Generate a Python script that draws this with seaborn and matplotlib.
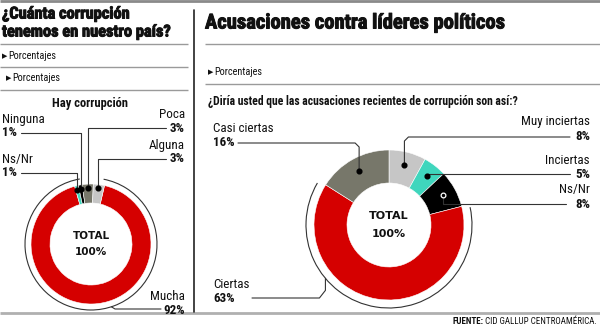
import numpy as np
import matplotlib
matplotlib.use("Agg")
import matplotlib.pyplot as plt
from matplotlib.patches import Arc
from matplotlib import font_manager
import matplotlib.patheffects as pe
import seaborn as sns

# ---------------- data ----------------
left_labels = ["Mucha", "Ns/Nr", "Ninguna", "Poca", "Alguna"]
left_values = [92, 1, 1, 3, 3]
left_colors = ["#d50000", "#3fd6bd", "#000000", "#77776a", "#c6c6c6"]

right_labels = ["Muy inciertas", "Inciertas", "Ns/Nr", "Ciertas", "Casi ciertas"]
right_values = [8, 5, 8, 63, 16]
right_colors = ["#c6c6c6", "#3fd6bd", "#000000", "#d50000", "#77776a"]

left_title = ["¿Cuánta corrupción", "tenemos en nuestro país?"]
right_title = "Acusaciones contra líderes políticos"
subtitle = "Porcentajes"
left_chart_title = "Hay corrupción"
right_question = "¿Diría usted que las acusaciones recientes de corrupción son así:?"
source_bold = "FUENTE:"
source_rest = " CID GALLUP CENTROAMÉRICA."

# ---------------- style ----------------
sns.set_theme(style="white")
names = {f.name for f in font_manager.fontManager.ttflist}
FONT = "Roboto"
for cand in ("Liberation Sans Narrow", "Roboto Condensed", "DejaVu Sans Condensed", "Roboto"):
    if cand in names:
        FONT = cand
        break
plt.rcParams["font.family"] = [FONT, "DejaVu Sans"]

W, H = 600, 329
fig = plt.figure(figsize=(W / 100, H / 100), dpi=100)
fig.patch.set_facecolor("white")


def pixel_axes():
    a = fig.add_axes([0, 0, 1, 1])
    a.set_xlim(0, W)
    a.set_ylim(H, 0)
    a.axis("off")
    return a


bg = pixel_axes()
GRAY = "#9a9a9a"
TXT = "#111111"
HEAVY = [pe.withStroke(linewidth=0.7, foreground=TXT)]


def hline(y, x0, x1, lw=1.0, c=GRAY):
    bg.plot([x0, x1], [y, y], color=c, lw=lw, solid_capstyle="butt")


# frame lines
hline(1, 0, W, lw=2.0, c="#8a8a8a")
hline(313, 0, W, lw=2.0, c="#b0b0b0")
bg.plot([194, 194], [10, 312], color="#222222", lw=1.2)
for y in (44, 67, 90):
    hline(y, 0, 188)
for y in (44, 84):
    hline(y, 205, W)

# titles
bg.text(2, 14, left_title[0], fontsize=11.8, fontweight="bold", va="center", ha="left", color=TXT, path_effects=HEAVY)
bg.text(2, 32, left_title[1], fontsize=11.8, fontweight="bold", va="center", ha="left", color=TXT, path_effects=HEAVY)
bg.text(205, 23, right_title, fontsize=14.8, fontweight="bold", va="center", ha="left", color=TXT, path_effects=HEAVY)
tri = dict(family=["DejaVu Sans"], fontsize=5, va="center", ha="left", color=TXT)
for (x, y) in ((2, 56), (6, 78), (208, 72)):
    bg.text(x, y, "▶", **tri)
    bg.text(x + 6, y, subtitle, fontsize=7.4, va="center", ha="left", color=TXT)
bg.text(90, 104, left_chart_title, fontsize=9, fontweight="bold", va="center", ha="center", color=TXT)
bg.text(208, 101, right_question, fontsize=8.4, fontweight="bold", va="center", ha="left", color=TXT)

t = bg.text(597, 322, source_rest, fontsize=6.5, va="center", ha="right", color=TXT)
fig.canvas.draw()
bb = t.get_window_extent()
bg.text(bb.x0, 322, source_bold, fontsize=6.5, fontweight="bold", va="center", ha="right", color=TXT)


# ---------------- donuts ----------------
def donut(cx, cy, half, R, r_in, values, colors, startangle):
    ax = fig.add_axes([(cx - half) / W, (H - (cy + half)) / H, 2 * half / W, 2 * half / H])
    wedges, _ = ax.pie(values, colors=colors, startangle=startangle, counterclock=False,
                       radius=R, wedgeprops=dict(width=R - r_in, edgecolor="white", linewidth=0.4))
    ax.set_xlim(-half, half)
    ax.set_ylim(-half, half)
    ax.set_aspect("equal")
    ax.axis("off")
    return ax, wedges


def dot_pos(w, cx, cy, r):
    a = np.deg2rad((w.theta1 + w.theta2) / 2)
    return cx + r * np.cos(a), cy - r * np.sin(a)


TOT = dict(ha="center", va="center", fontweight="bold", color=TXT, family=["DejaVu Sans"])

# left donut
LCX, LCY, LR = 91, 244, 60
axl, wl = donut(LCX, LCY, 80, LR, 41, left_values, left_colors, 77)
red = wl[0]
axl.add_patch(Arc((0, 0), 2 * 66, 2 * 66, theta1=red.theta1 - 6, theta2=red.theta2 + 2, color="#333333", lw=0.8))
axl.text(0, 8, "TOTAL", fontsize=7.5, **TOT)
axl.text(0, -8, "100%", fontsize=7.5, **TOT)

# right donut
RCX, RCY, RR = 389, 225, 75
axr, wr = donut(RCX, RCY, 100, RR, 42, right_values, right_colors, 90)
redr = wr[3]
axr.add_patch(Arc((0, 0), 2 * 83, 2 * 83, theta1=redr.theta1 + 2, theta2=redr.theta2 - 2, color="#333333", lw=0.8))
axr.text(0, 9, "TOTAL", fontsize=8, **TOT)
axr.text(0, -9, "100%", fontsize=8, **TOT)

# overlay for leaders, dots and labels (above the donuts)
top = pixel_axes()
LC = "#333333"
FS = 9.4


def leader(pts):
    xs, ys = zip(*pts)
    top.plot(xs, ys, color=LC, lw=0.8, solid_joinstyle="round")


def dot(x, y, hollow=False):
    if hollow:
        top.plot(x, y, "o", ms=3.4, mfc="black", mec="white", mew=0.9, zorder=6)
    else:
        top.plot(x, y, "o", ms=3.4, color="black", zorder=5)


def label(x, y, name, pct, ha):
    top.text(x, y, name, fontsize=FS, ha=ha, va="center", color=TXT)
    top.text(x, y + 14, pct, fontsize=FS, fontweight="bold", ha=ha, va="center", color=TXT)


# left labels
pos = {n: dot_pos(w, LCX, LCY, 56) for n, w in zip(left_labels, wl)}
lv = dict(zip(left_labels, left_values))
label(2, 119, "Ninguna", f"{lv['Ninguna']}%", "left")
dx, dy = pos["Ninguna"]; leader([(21, 133), (dx, 133), (dx, dy)]); dot(dx, dy)
label(2, 159, "Ns/Nr", f"{lv['Ns/Nr']}%", "left")
dx, dy = pos["Ns/Nr"]; leader([(21, 173), (dx, 173), (dx, dy)]); dot(dx, dy)
label(185, 114, "Poca", f"{lv['Poca']}%", "right")
dx, dy = pos["Poca"]; leader([(166, 128), (dx, 128), (dx, dy)]); dot(dx, dy)
label(185, 145, "Alguna", f"{lv['Alguna']}%", "right")
dx, dy = pos["Alguna"]; leader([(166, 159), (dx, 159), (dx, dy)]); dot(dx, dy)
label(185, 296, "Mucha", f"{lv['Mucha']}%", "right")
a = np.deg2rad(-72)
leader([(LCX + 66 * np.cos(a), LCY - 66 * np.sin(a)), (LCX + 24, 309), (161, 309)])

# right labels
pos = {n: dot_pos(w, RCX, RCY, 62) for n, w in zip(right_labels, wr)}
rv = dict(zip(right_labels, right_values))
label(213, 129, "Casi ciertas", f"{rv['Casi ciertas']}%", "left")
dx, dy = pos["Casi ciertas"]; leader([(238, 143), (dx - 4, 143), (dx, 147), (dx, dy)]); dot(dx, dy)
label(590, 122, "Muy inciertas", f"{rv['Muy inciertas']}%", "right")
dx, dy = pos["Muy inciertas"]; leader([(dx, dy), (dx, 141), (dx + 4, 137), (570, 137)]); dot(dx, dy)
label(590, 160, "Inciertas", f"{rv['Inciertas']}%", "right")
dx, dy = pos["Inciertas"]; leader([(dx, dy), (dx, 174), (570, 174)]); dot(dx, dy)
label(590, 190, "Ns/Nr", f"{rv['Ns/Nr']}%", "right")
dx, dy = pos["Ns/Nr"]; leader([(dx, dy), (dx, 204), (566, 204)]); dot(dx, dy, hollow=True)
label(213, 284, "Ciertas", f"{rv['Ciertas']}%", "left")
a = np.deg2rad(220)
px, py = RCX + 83 * np.cos(a), RCY - 83 * np.sin(a)
leader([(px, py), (px, py + 12), (px - 6, 298), (252, 298)])

fig.savefig("out.png", dpi=100, facecolor="white")
